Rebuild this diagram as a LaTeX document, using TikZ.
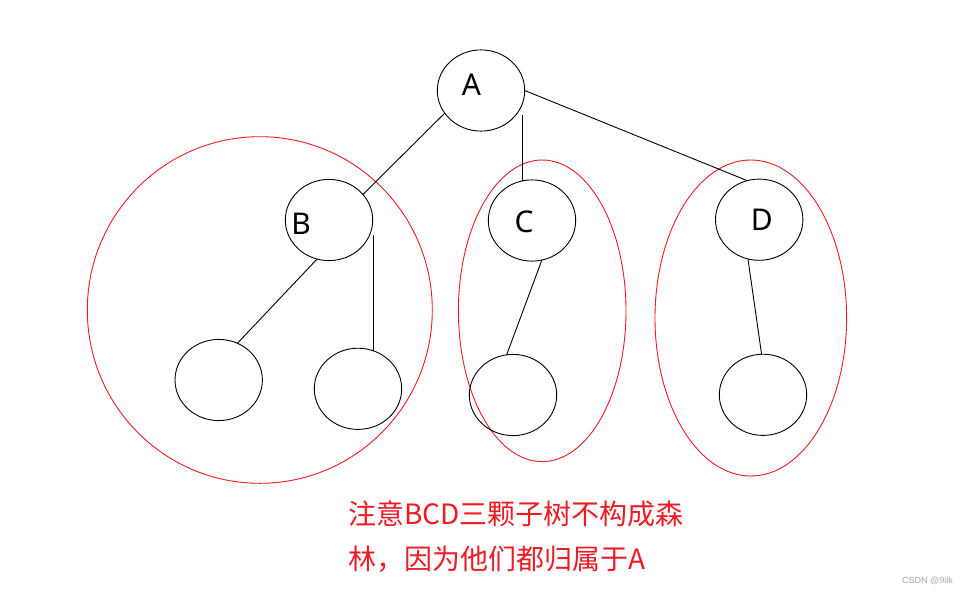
\documentclass[tikz,border=0pt]{standalone}
\usepackage{fontspec}
\setmainfont{Noto Sans}
\newfontfamily\cjk{Noto Sans CJK SC}
\newfontfamily\wmfont{Liberation Sans}
\usetikzlibrary{shapes.geometric}
\definecolor{pred}{HTML}{ED1C24}
\definecolor{wmgray}{HTML}{A8A8A8}
\begin{document}
\begin{tikzpicture}[x=1pt,y=-1pt,
  tree/.style={ellipse, draw=black, line width=0.9pt, inner sep=0pt, outer sep=0pt,
               minimum width=87.4pt, minimum height=81.2pt},
  region/.style={ellipse, draw=pred, line width=0.9pt, inner sep=0pt, outer sep=0pt},
  edge/.style={draw=black, line width=0.9pt},
  lbl/.style={font=\fontsize{30}{36}\selectfont, inner sep=0pt, anchor=base},
  note/.style={font=\cjk\fontsize{28}{45}\selectfont, text=pred, inner sep=0pt, anchor=base west},
  wm/.style={font=\wmfont\fontsize{9}{11}\selectfont, text=wmgray, inner sep=0pt, anchor=base west}
]
\path[use as bounding box, fill=white] (0,0) rectangle (969,595);

% red groupings
\node[region, minimum width=345pt, minimum height=346.6pt] (RB) at (259.8,310) {};
\node[region, minimum width=167.6pt, minimum height=301.6pt] (RC) at (542.2,310.8) {};
\node[region, minimum width=191.6pt, minimum height=316pt] (RD) at (750.8,318) {};

% tree nodes
\node[tree] (A) at (481,90.5) {};
\node[tree] (B) at (329,220) {};
\node[tree] (B1) at (218.7,380) {};
\node[tree] (B2) at (358,388.8) {};
\node[tree] (C) at (532,220.5) {};
\node[tree] (C1) at (513,395) {};
\node[tree] (D) at (759.2,219.7) {};
\node[tree] (D1) at (763,394.8) {};

% labels
\node[lbl] (lA) at (471.5,95) {A};
\node[lbl] (lB) at (301,234) {B};
\node[lbl] (lC) at (524,232.5) {C};
\node[lbl] (lD) at (761.7,230) {D};

% connectors
\draw[edge] (A.212) -- (B.37);
\draw[edge] (C.104) -- (C.104 |- A.-35);
\draw[edge] (A.0) -- (D.107);
\draw[edge] (B.253) -- (B1.63);
\draw[edge] (B2.68.5) -- (B2.68.5 |- B.-20);
\draw[edge] (C.-76) -- (C1.99.8);
\draw[edge] (D.-106) -- (D1.92);

% note
\node[note] (t1) at (348,524) {注意BCD三颗子树不构成森};
\node[note] (t2) at (348,569.5) {林，因为他们都归属于A};

% watermark
\node[wm] (w) at (902,583) {CSDN @9ilk};
\end{tikzpicture}
\end{document}
